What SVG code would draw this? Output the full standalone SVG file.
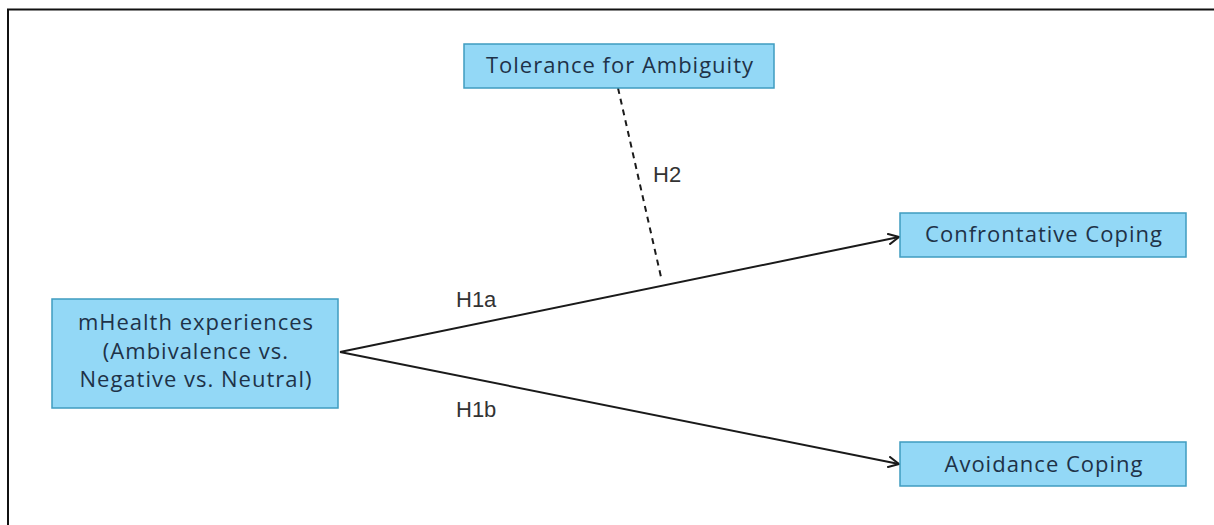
<svg xmlns="http://www.w3.org/2000/svg" width="1214" height="525" viewBox="0 0 1214 525">
<style>
.box{fill:#93d8f6;stroke:#3f9cc0;stroke-width:1.5}
.t{font-family:"Open Sans","Liberation Sans",sans-serif;font-size:22px;letter-spacing:1px;fill:#1e3248;text-anchor:middle}
.lbl{font-family:"Liberation Sans",Arial,sans-serif;font-size:22px;fill:#333}
.c{stroke:#1a1a1a;stroke-width:2;fill:none}
</style>
<defs>
<marker id="ah" markerWidth="14" markerHeight="12" refX="11" refY="6" orient="auto" markerUnits="userSpaceOnUse">
<path d="M0,0.5 L11,6 L0,11.5" fill="none" stroke="#1a1a1a" stroke-width="2"/>
</marker>
</defs>
<rect width="1214" height="525" fill="#fff"/>
<path d="M8,525 V9.5 H1214" fill="none" stroke="#111" stroke-width="2"/>
<g id="connectors">
<line class="c" x1="340" y1="352" x2="899" y2="237" marker-end="url(#ah)"/>
<line class="c" x1="340" y1="352" x2="899" y2="464" marker-end="url(#ah)"/>
<line class="c" x1="618" y1="88" x2="661" y2="277" stroke-dasharray="6,5"/>
<text class="lbl" x="456" y="307">H1a</text>
<text class="lbl" x="456" y="417">H1b</text>
<text class="lbl" x="653" y="182">H2</text>
</g>
<g id="tolerance">
<rect class="box" x="464" y="44" width="310" height="44"/>
<text class="t" x="620" y="73">Tolerance for Ambiguity</text>
</g>
<g id="mhealth">
<rect class="box" x="52" y="299" width="286" height="109"/>
<text class="t" x="196" y="330">mHealth experiences</text>
<text class="t" x="196" y="358.5">(Ambivalence vs.</text>
<text class="t" x="196" y="387">Negative vs. Neutral)</text>
</g>
<g id="confrontative">
<rect class="box" x="900" y="213" width="286" height="44"/>
<text class="t" x="1044" y="242">Confrontative Coping</text>
</g>
<g id="avoidance">
<rect class="box" x="900" y="442" width="286" height="44"/>
<text class="t" x="1044" y="472">Avoidance Coping</text>
</g>
</svg>
